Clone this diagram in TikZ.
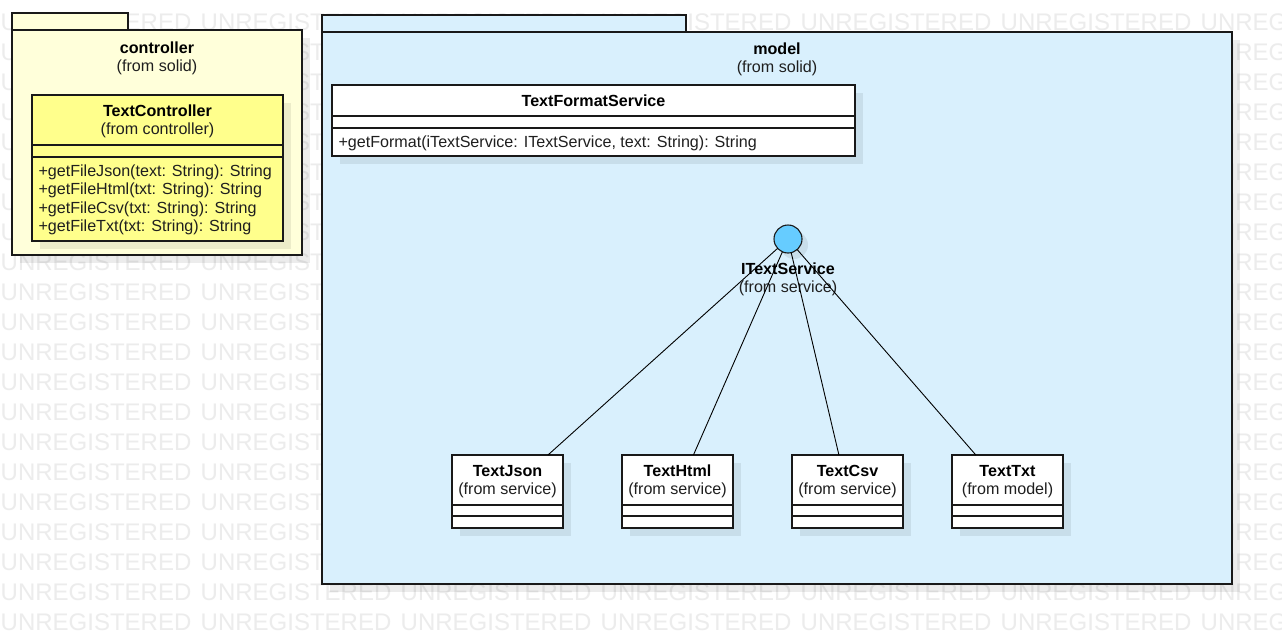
\documentclass[tikz,border=0pt]{standalone}
\usepackage{fontspec}
\setmainfont{Liberation Sans}
\definecolor{pkgyellow}{RGB}{255,255,218}
\definecolor{clsyellow}{RGB}{255,255,140}
\definecolor{pkgblue}{RGB}{217,240,253}
\definecolor{ifaceblue}{RGB}{102,204,255}
\definecolor{wmgray}{RGB}{236,236,236}
\definecolor{edge}{RGB}{25,25,25}
\begin{document}
\begin{tikzpicture}[x=1pt,y=-1pt,
  txt/.style={font=\fontsize{16.1}{18.6}\selectfont, text=black!88, inner sep=0pt, outer sep=0pt},
  boldtxt/.style={font=\fontsize{16.1}{18.6}\selectfont\bfseries, text=black, inner sep=0pt, outer sep=0pt},
  wm/.style={font=\fontsize{24}{24}\selectfont, text=wmgray, inner sep=0pt, anchor=base west},
  pkg/.style={draw=edge, line width=1.2pt, inner sep=0pt, outer sep=0pt, anchor=north west},
  cls/.style={draw=edge, line width=1.1pt, fill=white, inner sep=0pt, outer sep=0pt, anchor=north west},
  divider/.style={draw=edge, line width=1.1pt},
  shade/.style={fill=black, fill opacity=0.075, draw=none},
  link/.style={draw=black, line width=0.9pt}
]
\useasboundingbox (0,0) rectangle (1282,635);
\fill[white] (0,0) rectangle (1282,635);
% watermark
\foreach \r in {1,...,21} {
  \foreach \c in {0,...,6} {
    \node[wm] (wm-\r-\c) at (\c*200+0.5,\r*30) {UNREGISTERED};
  }
}
% package shadows
\fill[shade] (20,38) rectangle (310,263);
\fill[shade] (330,40) rectangle (1240,592);
% controller package
\node[pkg, fill=pkgyellow, minimum width=116pt, minimum height=17pt] (ctab) at (12,13) {};
\node[pkg, fill=pkgyellow, minimum width=290pt, minimum height=225pt] (cpkg) at (12,30) {};
\node[boldtxt, anchor=base] (ctitle) at (157,53) {controller};
\node[txt, anchor=base] (cfrom) at (157,71) {(from solid)};
% model package
\node[pkg, fill=pkgblue, minimum width=364pt, minimum height=17pt] (mtab) at (322,15) {};
\node[pkg, fill=pkgblue, minimum width=910pt, minimum height=552pt] (mpkg) at (322,32) {};
\node[boldtxt, anchor=base] (mtitle) at (777,54) {model};
\node[txt, anchor=base] (mfrom) at (777,72.5) {(from solid)};
% TextController
\fill[shade] (40,103) rectangle (291,249);
\node[cls, fill=clsyellow, minimum width=251pt, minimum height=146pt] (tc) at (32,95) {};
\draw[divider] ([yshift=-50pt]tc.north west) -- ([yshift=-50pt]tc.north east);
\draw[divider] ([yshift=-62pt]tc.north west) -- ([yshift=-62pt]tc.north east);
\node[boldtxt, anchor=base] (tcname) at (157.5,116) {TextController};
\node[txt, anchor=base] (tcfrom) at (157.5,134) {(from controller)};
\node[txt, anchor=base west] (op1) at (38.5,176) {+getFileJson(text: String): String};
\node[txt, anchor=base west] (op2) at (38.5,194.6) {+getFileHtml(txt: String): String};
\node[txt, anchor=base west] (op3) at (38.5,213.2) {+getFileCsv(txt: String): String};
\node[txt, anchor=base west] (op4) at (38.5,231.8) {+getFileTxt(txt: String): String};
% TextFormatService
\fill[shade] (340,93) rectangle (863,164);
\node[cls, minimum width=523pt, minimum height=71pt] (tfs) at (332,85) {};
\draw[divider] ([yshift=-31pt]tfs.north west) -- ([yshift=-31pt]tfs.north east);
\draw[divider] ([yshift=-43pt]tfs.north west) -- ([yshift=-43pt]tfs.north east);
\node[boldtxt, anchor=base] (tfsname) at (593.5,106) {TextFormatService};
\node[txt, anchor=base west] (tfsop) at (338.5,147) {+getFormat(iTextService: ITextService, text: String): String};
% classes
\foreach \nm/\x in {json/452, html/622, csv/792, txt/952} {
  \fill[shade] (\x+8,463) rectangle (\x+119,536);
  \node[cls, minimum width=111pt, minimum height=73pt] (\nm) at (\x,455) {};
  \draw[divider] ([yshift=-50pt]\nm.north west) -- ([yshift=-50pt]\nm.north east);
  \draw[divider] ([yshift=-61pt]\nm.north west) -- ([yshift=-61pt]\nm.north east);
}
\node[boldtxt, anchor=base] (jsonname) at (507.5,476) {TextJson};
\node[txt, anchor=base] (jsonfrom) at (507.5,494) {(from service)};
\node[boldtxt, anchor=base] (htmlname) at (677.5,476) {TextHtml};
\node[txt, anchor=base] (htmlfrom) at (677.5,494) {(from service)};
\node[boldtxt, anchor=base] (csvname) at (847.5,476) {TextCsv};
\node[txt, anchor=base] (csvfrom) at (847.5,494) {(from service)};
\node[boldtxt, anchor=base] (txtname) at (1007.5,476) {TextTxt};
\node[txt, anchor=base] (txtfrom) at (1007.5,494) {(from model)};
% interface
\fill[shade] (794,245) circle (14);
\node[circle, draw=edge, line width=1.1pt, fill=ifaceblue, minimum size=28pt, inner sep=0pt, outer sep=0pt] (iface) at (788,239) {};
\node[boldtxt, anchor=base] (ifname) at (788,274) {ITextService};
\node[txt, anchor=base] (iffrom) at (788,292.5) {(from service)};
% realization links
\draw[link] (iface) -- (json);
\draw[link] (iface) -- (html);
\draw[link] (iface) -- (csv);
\draw[link] (iface) -- (txt);
\end{tikzpicture}
\end{document}
